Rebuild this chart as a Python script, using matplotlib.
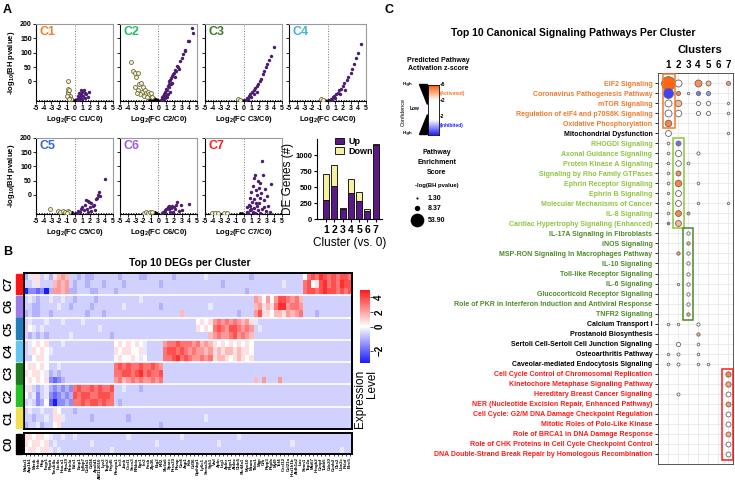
import numpy as np
import matplotlib
matplotlib.use("Agg")
import matplotlib.pyplot as plt
from matplotlib.colors import LinearSegmentedColormap, TwoSlopeNorm, Normalize
from matplotlib.patches import Rectangle, Polygon

plt.rcParams['font.family'] = ['Liberation Sans', 'DejaVu Sans']
plt.rcParams['font.weight'] = 'bold'
plt.rcParams['axes.labelweight'] = 'bold'
plt.rcParams['mathtext.fontset'] = 'custom'
plt.rcParams['mathtext.rm'] = 'Liberation Sans:bold'
plt.rcParams['mathtext.default'] = 'rm'
plt.rcParams['axes.linewidth'] = 0.8

# ---------------- data: volcano plots (log2 FC, -log10 BH p) ----------------
up_c1 = [(0.3, -60), (0.5, -50), (0.6, -40), (0.7, -55), (0.8, -30), (0.9, -45), (1.0, -35),
         (1.1, -50), (1.2, -28), (1.3, -40), (1.5, -45), (1.7, -55), (1.9, -35), (0.4, -65),
         (0.6, -62), (1.0, -60), (1.4, -58), (0.8, -48)]
down_c1 = [(-0.9, 0), (-0.9, -25), (-0.8, -35), (-0.7, -30), (-0.9, -45), (-0.6, -50),
           (-0.8, -55), (-0.5, -60), (-1.0, -50), (-0.7, -62)]
ns_c1 = [(-0.5, -64), (-0.3, -62), (-0.2, -66), (0.1, -65), (-0.4, -58), (0.0, -63)]

up_c2 = [(0.3, -65), (0.4, -60), (0.5, -55), (0.6, -50), (0.7, -45), (0.8, -40), (0.9, -35),
         (1.0, -25), (1.1, -30), (1.2, -15), (1.3, -10), (1.4, 0), (1.5, 5), (1.6, 12),
         (1.7, -5), (1.8, 20), (1.9, 25), (2.0, 30), (2.1, 15), (2.2, 40), (2.3, 35), (2.5, 50),
         (2.6, 45), (2.8, 70), (3.0, 80), (3.2, 95), (3.4, 105), (3.5, 110), (3.8, 140),
         (4.0, 140), (4.3, 185), (4.5, 170), (0.5, -63), (0.8, -58), (1.0, -52), (1.2, -45),
         (1.5, -35), (0.7, -62), (1.1, -55), (1.4, -20), (1.6, -8), (2.4, 55)]
down_c2 = [(-3.6, 66), (-3.3, 35), (-3.0, 28), (-2.7, 28), (-2.9, 15), (-2.5, -10), (-2.3, -5),
           (-2.0, -20), (-2.6, -30), (-2.2, -35), (-1.8, -30), (-1.6, -40), (-1.4, -35),
           (-1.2, -45), (-1.0, -40), (-2.4, -45), (-1.9, -50), (-1.5, -55), (-0.8, -55),
           (-2.8, -40), (-3.1, -20)]
ns_c2 = [(-1.0, -60), (-0.8, -62), (-0.6, -58), (-0.5, -64), (-0.3, -60), (-0.2, -65),
         (0.0, -63), (-0.7, -66), (-1.2, -64)]

up_c3 = [(0.3, -65), (0.5, -58), (0.7, -52), (0.9, -45), (1.1, -38), (1.3, -30), (1.5, -22),
         (1.7, -15), (1.9, -8), (2.1, 0), (2.3, 10), (2.5, 25), (2.7, 35), (2.9, 50), (3.1, 60),
         (3.3, 75), (3.6, 90), (3.9, 120), (0.6, -62), (1.0, -55), (1.4, -45), (1.8, -35)]
down_c3 = [(-0.7, -62), (-0.5, -65)]
ns_c3 = [(-0.2, -66), (0.1, -65)]

up_c4 = [(0.3, -65), (0.5, -60), (0.7, -55), (0.9, -50), (1.1, -45), (1.3, -40), (1.5, -30),
         (1.7, -25), (2.0, -15), (2.2, -5), (2.5, 5), (2.7, 15), (3.0, 30), (3.2, 45), (3.5, 60),
         (3.7, 80), (4.0, 100), (4.3, 130), (0.6, -63), (1.0, -58), (1.6, -45), (2.3, -30)]
down_c4 = [(-0.8, -60), (-0.6, -64)]
ns_c4 = [(-0.3, -65), (0.0, -66)]

up_c5 = [(3.9, 55), (3.2, 10), (3.1, 0), (2.9, -10), (2.8, -15), (3.3, -5), (1.5, -20),
         (1.7, -22), (1.9, -25), (2.1, -30), (1.3, -35), (1.0, -45), (0.8, -50), (0.5, -58),
         (0.3, -64), (1.2, -55), (1.6, -50), (2.0, -45), (2.4, -40), (2.6, -55), (0.7, -62),
         (1.8, -60), (2.2, -58), (2.5, -35)]
down_c5 = [(-3.2, -50), (-2.2, -58), (-1.9, -60), (-1.5, -58), (-1.2, -60), (-0.9, -56),
           (-0.7, -62), (-1.0, -64)]
ns_c5 = [(-0.5, -64), (-0.3, -62), (0.0, -65)]

up_c6 = [(0.4, -64), (0.6, -60), (0.8, -55), (1.0, -50), (1.2, -45), (1.4, -52), (1.6, -48),
         (1.8, -40), (2.0, -45), (2.2, -50), (2.4, -27), (2.9, -38), (4.0, -33), (1.5, -60),
         (2.6, -58), (3.1, -55), (0.9, -62), (1.9, -62), (1.3, -40), (2.3, -35)]
down_c6 = [(-1.9, -63), (-1.6, -62), (-1.3, -64), (-1.1, -62), (-0.9, -60)]
ns_c6 = [(-0.6, -64), (-0.4, -62), (-0.2, -65)]

up_c7 = [(2.4, 119), (1.5, 69), (2.5, 68), (1.4, 60), (1.9, 50), (3.6, 37), (2.2, 40), (1.2, 30),
         (2.0, 25), (1.6, 15), (2.8, 20), (1.0, 10), (2.3, 5), (1.8, 0), (3.0, -5), (0.9, -10),
         (1.4, -15), (2.6, -20), (1.1, -25), (2.0, -30), (0.7, -35), (1.7, -40), (3.2, -40),
         (0.5, -45), (1.3, -48), (2.4, -50), (0.8, -55), (1.9, -55), (0.4, -60), (1.2, -60),
         (2.9, -58), (3.4, -60), (0.6, -64), (1.5, -64), (2.2, -63), (1.0, -50), (1.6, -30),
         (2.1, -10), (0.9, -40), (2.7, -45)]
down_c7 = [(-4.1, -64), (-3.7, -63), (-3.3, -64), (-2.5, -63), (-2.2, -64)]
ns_c7 = [(-0.5, -64), (-0.2, -63)]

volcano_names = ["C1", "C2", "C3", "C4", "C5", "C6", "C7"]
volcano_colors = ["#f07f2e", "#22c065", "#3c7a2b", "#42b2e2", "#3a68d6", "#9a5ee0", "#ff2020"]
volcano_up = [up_c1, up_c2, up_c3, up_c4, up_c5, up_c6, up_c7]
volcano_down = [down_c1, down_c2, down_c3, down_c4, down_c5, down_c6, down_c7]
volcano_ns = [ns_c1, ns_c2, ns_c3, ns_c4, ns_c5, ns_c6, ns_c7]

# ---------------- data: DE gene counts ----------------
bar_clusters = [1, 2, 3, 4, 5, 6, 7]
de_up = [300, 520, 160, 410, 280, 130, 1150]
de_down = [400, 330, 8, 210, 140, 30, 20]

# ---------------- data: heatmap ----------------
genes = ["Malat1", "Atp1b1", "Mertk", "Hexb", "Pltp", "Ifngr1",
         "Ptprb", "Tmsb4x", "Ltc4s", "Hba-a1", "Rps29", "Retnla",
         "Edn1", "Emp1", "Igfbp7", "Col4a1", "Cd34", "Apold1", "AW112010", "Lyz2", "Tagln2", "Fxyd5",
         "Pmepa1", "Ier3", "Junb", "Cxcl1", "Socs3", "Nfkbia", "Egr1", "Ier2", "Fosb", "Zfp36", "Btg2", "Klf2",
         "Slc6a6", "Sparc", "Prss23", "Plvap", "Car4", "Aqp1", "Kdr", "Cd36", "Gpihbp1", "Ly6c1", "Sema3c", "Sgk1",
         "Vwf", "Apln", "Lrg1", "Aplnr", "Ptgs1", "Aldoc", "Cldn5", "Slc44a1", "Myo10", "Mcam", "Thbs1",
         "Mgp", "Cfh", "Plpp3", "Ptgds", "Myl9", "Tcf4", "Cxcl12", "Ccl21a", "Hist1h1b", "Aldh1a2", "Lox",
         "Stmn1", "Top2a", "Mki67", "Hmgb2", "Cenpf", "Tubb5", "Cdc20", "Ccnb2", "Cks2", "Ube2c", "Pclaf", "Birc5"]

# one letter per cell, A = -3 ... M = 4.5
level_chars = "ABCDEFGHIJKLM"
level_values = [-3, -2, -1.5, -1, -0.6, -0.3, 0, 0.7, 1.5, 2.2, 3, 3.8, 4.5]

heat_c7 = ["DFHHEFDHIJ IEEDEDDEEE EEEDEEEEDD EEEEEEDEEE EEEEFEEEEE EEEEEDEEEE EEEEEEEEGK LKMLKLKLLK",
           "EEFHEEEIJI JEDEEDEEED EEEEDEEEEE EEEDEEEEEE EEEEEEEEDE EEEEEEEEEE EEEFEEEEKL GHLMKLKMLL",
           "ACCBCADJJI JDDEEEDDEE EEDEEEEEEE EEEEEEEEEE EEEEEEEEEE EEEEDEEEEE EEEEEEEEKL LKLMLLKLKL"]
heat_c6 = ["EFEDEEFEEF EEDEEEEDEE EEEEEEEEFE EEEEEEEEEE EEEEEEEEEE EEEEEEJIGJ GJLLKJKIEE EEEEEEEEEE",
           "EEDDEEEEFE EDEEEEDEEE EEEEFEEEEE EEEDEEEEEE EEEEEFEEEE EEEEEEIJHI HKMMJKKJEE EEEEEEEEEE",
           "DEDDEEDEEE EEEEEDEEED EEEEEEEEEE EEEEEEEEIE EEEEEEEEEE EEDEEEJLHH GIIHJIJKEE EDEEEEEEEE"]
heat_c5 = ["EFEEEFEEEF EEEEFEEEEE EEEEEEEEEE EEEEEEEEEE EEGHGHJKJK JKJIJHFEEE EEEEEEEEEE EEEEEEEEEE",
           "EGFEFEEEEE EEEEEEEEFE EEEEEEEEEE EEEEEEEEEE EEHGHGKLKJ LLKJKJEFEE EEEEEEEEEE EEEEEEEEEE",
           "EDEDEDEEEE EFEEEEEEEE EDEEEEEEEE EEEEEEEEEE EEEEEIJKJJ KLJKJIEEEE EEEEEEEEEE EEEEEEEEEE"]
heat_c4 = ["EFGHGHEEEF EEEEEEEEEE EEGHGHGHGF EEEEJKKLKK KJKIJIHGHG HGHGHGEEEE EEEEEEEEEE EEEEEEEEEE",
           "EFHGHGFEEE EEEEEEEEEE EEHGHHGGHF EEEEKLLKLK JKJJIJHIHI IHIHHGEEEE EEEEEEEEEE EEEEEEEEEE",
           "EEGHHGEEEE EEEEEEEEEE EEGHGGHGFG EEEEKKLMKL KJJKJKHIIH GHIHGHEEEE EEEEEEEEEE EEEEEEEEEE"]
heat_c3 = ["GHHGHGEEFE EEEEEEEEEE EEKLKLKKLK KLKJEEEEEE EEEEEEEEEE EEEEEEEEEE EEEEEEEEEE EEEEEEEEEE",
           "HGHHGFDEDE EEEEEEEEEE EEKKLLKLMK LKKLEEEEEE EEEEEEEEEE EEEEEEEEEE EEEEEEEEEE EEEEEEEEEE",
           "GHGHGHCBCD EEEEEEEEEE EEJKIJKJKJ JKJKEEEEEE EEEEEEEEEE EEEEEEIEJE EEJEEEEEEE EEEEEEEEEE"]
heat_c2 = ["FHEDEFDCDC DCKLKKLKLK KLEEFEEEDE EEEEEEEEEE EEEEEEEEEE EEEEEEEEEE EEEEEEEEEE EEEEEEEEEE",
           "GEFCEFCBCD CDLKLLKKLL LKEEEEEEEE EEEEEEEEEE EEEEEEEEEE EEEEEEEEEE EEEEEEEEEE EEEEEEEEEE",
           "EFECDGBACC DCKKLKLLKL KKEDEEEEEE EEEEEEEEEE EEEEEEEEEE EEEEEEEEEE EEEEEEEEEE EEEEEEEEEE"]
heat_c1 = ["EFEEFEEHGE EEDEEEEEEE EEEEEEEEEE EEEEEEEEEE EEEEEEEEEE EEEEEEEEEE EEEEEEEEEE EEEEEEEEEE",
           "EEDEEFEHHF EEEEEEDEEE EEEEEDEEEE EEEEEEEEEE EEEEFEEEEE EEEEEEEEEE EEEEEEEEEE EEEEEEEEEE",
           "DEEFDEEGHE EEEEEEEEEE EEEEEEEEEE EEEDEEEEEE EEEEEEEEEE EEEEEEEEEE EEEEEEEEEE EEEEEEEEEE"]
heat_c0 = ["HHGHHGFEEF EEFEEEEEEE EEEEEFEEEE EEEEEEEEFE EEEEEEEEEE EEFEEEEEEE EEEEEEEEEE EEEEEEEEEE",
           "HGHHGHEFEE EEEEEEFEEE EEEEEEEEEE EEFEEEEEEE EEEEEEEFEE EEEEEEEEEE EEEEEFEEEE EEEEEEEEEE",
           "GHHGHHFEFE EEEEEEEEEE EFEEEEEEEE EEEEEEEEEE EEEEEEEEEE EEEEEEEEEE EEEEEEEEEE EEEEEEEFEE"]

heat_names = ["C7", "C6", "C5", "C4", "C3", "C2", "C1"]
heat_blocks = [heat_c7, heat_c6, heat_c5, heat_c4, heat_c3, heat_c2, heat_c1]
strip_colors = ["#ff1414", "#9b7de8", "#1f7fb8", "#5ec8f2", "#1e7a1e", "#22c322", "#f2e04a"]

# ---------------- data: canonical pathways ----------------
pathways = ["EIF2 Signaling", "Coronavirus Pathogenesis Pathway", "mTOR Signaling",
            "Regulation of eIF4 and p70S6K Signaling", "Oxidative Phosphorylation",
            "Mitochondrial Dysfunction", "RHOGDI Signaling", "Axonal Guidance Signaling",
            "Protein Kinase A Signaling", "Signaling by Rho Family GTPases",
            "Ephrin Receptor Signaling", "Ephrin B Signaling", "Molecular Mechanisms of Cancer",
            "IL-8 Signaling", "Cardiac Hypertrophy Signaling (Enhanced)",
            "IL-17A Signaling in Fibroblasts", "iNOS Signaling",
            "MSP-RON Signaling In Macrophages Pathway", "IL-10 Signaling",
            "Toll-like Receptor Signaling", "IL-6 Signaling", "Glucocorticoid Receptor Signaling",
            "Role of PKR in Interferon Induction and Antiviral Response", "TNFR2 Signaling",
            "Calcium Transport I", "Prostanoid Biosynthesis",
            "Sertoli Cell-Sertoli Cell Junction Signaling", "Osteoarthritis Pathway",
            "Caveolar-mediated Endocytosis Signaling",
            "Cell Cycle Control of Chromosomal Replication", "Kinetochore Metaphase Signaling Pathway",
            "Hereditary Breast Cancer Signaling", "NER (Nucleotide Excision Repair, Enhanced Pathway)",
            "Cell Cycle: G2/M DNA Damage Checkpoint Regulation", "Mitotic Roles of Polo-Like Kinase",
            "Role of BRCA1 in DNA Damage Response",
            "Role of CHK Proteins in Cell Cycle Checkpoint Control",
            "DNA Double-Strand Break Repair by Homologous Recombination"]
pathway_groups = ["o"] * 5 + ["k"] + ["lg"] * 9 + ["dg"] * 9 + ["k"] * 5 + ["r"] * 9
group_colors = {"o": "#f07a2c", "k": "black", "lg": "#8dc63f", "dg": "#4d8a2a", "r": "#ff1a1a"}

# (cluster, -log BH p, z-score) per pathway
pathway_dots = [
    [(1, 53.9, 4.8), (2, 14, 0), (4, 14, 4.0), (5, 7, 3.3), (7, 4.6, 3.8)],
    [(1, 29, -4.6), (2, 5, 4.2), (3, 1.6, 0), (4, 5, -3.8), (5, 5, -3.4)],
    [(1, 14, 0), (2, 12, 3.3), (4, 5, 0), (5, 5, 0), (7, 1.6, 0)],
    [(1, 14, 0), (2, 12, 0), (4, 5, 0), (5, 5, 0), (7, 2, 0)],
    [(1, 12, 4.2)],
    [(1, 10, 0), (7, 1.8, 0)],
    [(1, 2, 0), (2, 7, -4.0)],
    [(1, 2, 0), (2, 11, 0), (4, 3, 0)],
    [(1, 2, 0), (2, 9, 0), (3, 2.2, 0)],
    [(1, 2, 0), (2, 7, 4.0)],
    [(1, 2, 0), (2, 12, 4.2), (4, 2, 0)],
    [(1, 1.6, 0), (2, 10, 0)],
    [(1, 1.6, 0), (2, 10, 0), (4, 1.8, 0), (7, 1.6, 0)],
    [(1, 2, 0), (2, 10, 4.2), (3, 2.6, 3.6)],
    [(1, 2, -3.8), (2, 10, 3.3)],
    [(3, 3.2, 0)],
    [(3, 3.2, 3.3)],
    [(2, 3.2, 3.8), (3, 3.2, 0)],
    [(3, 3.2, 0)],
    [(3, 3.2, 0)],
    [(2, 1.6, 0), (3, 3.2, 0)],
    [(3, 3.2, 0)],
    [(3, 3.2, 0)],
    [(3, 3.2, 3.6)],
    [(1, 1.8, 0), (2, 1.8, 0), (4, 3, 0)],
    [(4, 3.2, 3.6)],
    [(2, 5, 0), (4, 2, 0)],
    [(1, 1.8, 0), (2, 2.6, 0), (4, 2, 0)],
    [(1, 2.2, 0), (2, 2.6, 0), (4, 2, 0), (5, 1.8, 0)],
    [(7, 8, 4.2)],
    [(7, 8, 3.6)],
    [(2, 2.6, 0), (7, 7, 0)],
    [(7, 7, 3.8)],
    [(7, 7, 0)],
    [(7, 7, 0)],
    [(7, 7, 3.5)],
    [(7, 7, 0)],
    [(7, 7, 0)],
]
legend_logp = [1.30, 8.37, 53.90]

# ---------------- figure ----------------
W, H = 735, 492
fig = plt.figure(figsize=(W / 100, H / 100), dpi=100)


def px_axes(x0, y0, x1, y1, **kw):
    return fig.add_axes([x0 / W, 1 - y1 / H, (x1 - x0) / W, (y1 - y0) / H], **kw)


# ---- A: volcano plots ----
vol_boxes = [(36, 24, 113, 101), (120, 24, 197, 101), (205, 24, 282, 101), (289, 24, 366, 101),
             (36, 138, 113, 214), (120, 138, 197, 214), (205, 138, 282, 214)]
for i, name in enumerate(volcano_names):
    ax = px_axes(*vol_boxes[i])
    ax.set_xlim(-5, 5)
    ax.set_ylim(-68, 200)
    ax.axvline(0, color="#777777", ls=":", lw=0.7)
    ax.axhline(-64, color="black", ls=":", lw=0.7)
    ns = np.array(volcano_ns[i])
    dn = np.array(volcano_down[i])
    up = np.array(volcano_up[i])
    ax.scatter(ns[:, 0], ns[:, 1], s=4, color="black", lw=0, zorder=3)
    ax.scatter(dn[:, 0], dn[:, 1], s=8, facecolor="#f3f0d4", edgecolor="#6e6a3a", lw=0.6, zorder=3)
    ax.scatter(up[:, 0], up[:, 1], s=6, color="#4b1c6f", lw=0, zorder=4)
    ax.text(0.04, 0.97, name, transform=ax.transAxes, color=volcano_colors[i],
            fontsize=9, va="top", ha="left")
    ax.set_xticks(range(-5, 6))
    ax.set_xticklabels([str(v) for v in range(-5, 6)], fontsize=5)
    ax.set_yticks([0, 50, 100, 150, 200])
    if i in (0, 4):
        ax.set_yticklabels(["0", "50", "100", "150", "200"], fontsize=5)
    else:
        ax.set_yticklabels([])
    ax.tick_params(length=2, width=0.6, pad=1)
    for side in ("top", "right"):
        ax.spines[side].set_color("#9a9a9a")
    ax.set_xlabel("Log$_2$(FC %s/C0)" % name, fontsize=5.5, labelpad=1.5)
    if i in (0, 4):
        ax.set_ylabel("-log$_{10}$(BH pvalue)", fontsize=5.5, labelpad=2)

# ---- A: DE gene bar chart ----
axb = px_axes(317, 139, 382, 219)
axb.bar(bar_clusters, de_up, width=0.72, color="#5a1a86", edgecolor="black", lw=0.6, label="Up")
axb.bar(bar_clusters, de_down, bottom=de_up, width=0.72, color="#f6f0a2", edgecolor="black",
        lw=0.6, label="Down")
axb.set_xlim(-0.08, 7.75)
axb.set_ylim(0, 1250)
axb.set_yticks([0, 250, 500, 750, 1000])
axb.set_xticks(bar_clusters)
axb.tick_params(axis="x", labelsize=7.5, length=2.5, pad=1.5)
axb.tick_params(axis="y", labelsize=5.5, length=2.5, pad=1)
axb.spines["top"].set_visible(False)
axb.spines["right"].set_visible(False)
axb.set_xlabel("Cluster (vs. 0)", fontsize=8.5, fontweight="normal", labelpad=2)
axb.set_ylabel("DE Genes (#)", fontsize=8.5, fontweight="normal", labelpad=1)
axb.legend(loc="upper left", bbox_to_anchor=(0.2, 1.08), frameon=False, fontsize=6.5,
           handlelength=1.1, handleheight=0.8, labelspacing=0.1, borderpad=0, handletextpad=0.4)

# ---- B: heatmap ----
def decode(rows):
    return [[level_values[level_chars.index(c)] for c in r.replace(" ", "")] for r in rows]


heat_top = np.array([row for block in heat_blocks for row in decode(block)])
heat_c0_vals = np.array(decode(heat_c0))

heat_cmap = LinearSegmentedColormap.from_list("bwr2", ["#1a1aff", "white", "#ff1a1a"])
heat_norm = TwoSlopeNorm(vmin=-3, vcenter=0, vmax=5)

axh = px_axes(24, 273, 352, 429)
im = axh.imshow(heat_top, cmap=heat_cmap, norm=heat_norm, aspect="auto", interpolation="nearest")
for k in range(1, 7):
    axh.axhline(k * 3 - 0.5, color="white", lw=1.2)
axh.set_xticks([])
axh.set_yticks([])
for sp in axh.spines.values():
    sp.set_linewidth(1.4)

axh0 = px_axes(24, 433, 352, 454)
axh0.imshow(heat_c0_vals, cmap=heat_cmap, norm=heat_norm, aspect="auto", interpolation="nearest")
axh0.set_yticks([])
axh0.set_xticks(range(len(genes)))
axh0.set_xticklabels(genes, rotation=90, fontsize=3.2)
axh0.tick_params(axis="x", length=1.5, width=0.5, pad=1)
for sp in axh0.spines.values():
    sp.set_linewidth(1.4)

cax = px_axes(360, 290, 370, 363)
cb = fig.colorbar(im, cax=cax, ticks=[-2, 0, 2, 4])
cb.outline.set_visible(False)
cax.tick_params(labelsize=7, length=2, width=0.5, pad=1)
plt.setp(cax.get_yticklabels(), rotation=90, va="center")

# ---- C: dot plot ----
z_cmap = LinearSegmentedColormap.from_list(
    "zscore", [(0, "#2424ff"), (0.3, "white"), (0.7, "white"), (1, "#ff5a00")])
z_norm = Normalize(-5, 5)

axd = px_axes(658, 73, 733, 464)
axd.set_xlim(0, 7.5)
axd.set_ylim(39, 0)
for r, dots in enumerate(pathway_dots):
    for cl, lp, z in dots:
        axd.scatter(cl, r + 1, s=1.8 * lp, color=z_cmap(z_norm(z)), edgecolor="#666666",
                    lw=0.6, zorder=3)
axd.set_xticks(range(1, 8))
axd.xaxis.tick_top()
axd.tick_params(axis="x", length=0, labelsize=7, pad=2)
axd.set_yticks(range(1, len(pathways) + 1))
axd.set_yticklabels(pathways, fontsize=5)
for lab, g in zip(axd.get_yticklabels(), pathway_groups):
    lab.set_color(group_colors[g])
axd.tick_params(axis="y", length=2, width=0.6, pad=2)
axd.grid(color="#e4e4e4", lw=0.5)
axd.set_axisbelow(True)
for sp in axd.spines.values():
    sp.set_color("#555555")
    sp.set_linewidth(0.7)

boxes = [(0.45, 0.05, 1.65, 5.5, "#f07a2c"), (1.45, 6.45, 2.6, 15.5, "#8dc63f"),
         (2.45, 15.5, 3.5, 24.6, "#4d8a2a"), (6.4, 29.5, 7.45, 38.6, "#ff1a1a")]
for x0, y0, x1, y1, c in boxes:
    axd.add_patch(Rectangle((x0, y0), x1 - x0, y1 - y0, fill=False, edgecolor=c, lw=1.1,
                            clip_on=False, zorder=4))

# gradient bar of the z-score legend
axg = px_axes(428, 85, 439, 135)
axg.imshow(np.linspace(5, -5, 100).reshape(-1, 1), cmap=z_cmap, norm=z_norm, aspect="auto")
axg.set_xticks([])
axg.set_yticks([])
for sp in axg.spines.values():
    sp.set_linewidth(0.6)

# ---- overlay for panel letters and free text ----
ov = fig.add_axes([0, 0, 1, 1], zorder=10)
ov.set_xlim(0, W)
ov.set_ylim(H, 0)
ov.axis("off")
ov.patch.set_alpha(0)

ov.text(3, 10, "A", fontsize=9, va="center")
ov.text(3, 252, "B", fontsize=9, va="center")
ov.text(385, 10, "C", fontsize=9, va="center")

ov.text(190, 263, "Top 10 DEGs per Cluster", fontsize=7.5, ha="center", va="center")
block_h = 156 / 7
for k, (name, c) in enumerate(zip(heat_names, strip_colors)):
    y0 = 273 + k * block_h
    ov.add_patch(Rectangle((16, y0 + 0.8), 6.5, block_h - 1.6, color=c))
    ov.text(9, y0 + block_h / 2, name, rotation=90, fontsize=8, ha="center", va="center")
ov.add_patch(Rectangle((16, 433.5), 6.5, 20, color="black"))
ov.text(9, 444, "C0", rotation=90, fontsize=8, ha="center", va="center")
ov.text(366, 370, "Expression\nLevel", rotation=90, fontsize=8.5, fontweight="normal",
        ha="center", va="top", multialignment="right", linespacing=0.95)

ov.text(573, 33, "Top 10 Canonical Signaling Pathways Per Cluster", fontsize=7.5,
        ha="center", va="center")
ov.text(700, 50, "Clusters", fontsize=8, ha="center", va="center")

ov.text(438, 65, "Predicted Pathway\nActivation z-score", fontsize=5, ha="center",
        va="center", linespacing=1.2)
ov.add_patch(Polygon([(419, 84), (427, 84), (427, 104)], color="black"))
ov.add_patch(Polygon([(427, 114), (427, 134), (419, 134)], color="black"))
ov.text(408, 84, "High", fontsize=3.2, ha="center", va="center")
ov.text(415, 108, "Low", fontsize=3.5, ha="center", va="center")
ov.text(408, 133, "High", fontsize=3.2, ha="center", va="center")
ov.text(403, 112, "Confidence", rotation=90, fontsize=4, fontweight="normal",
        ha="center", va="center")
ov.text(440, 85, "+5", fontsize=3.5, va="center")
ov.text(440, 93, "(Activated)", fontsize=3.5, va="center", color="#f07a2c")
ov.text(440, 101, "+2", fontsize=3.5, va="center")
ov.text(440, 116, "-2", fontsize=3.5, va="center")
ov.text(440, 125, "(Inhibited)", fontsize=3.5, va="center", color="#2424ff")

ov.text(437, 163, "Pathway\nEnrichment\nScore", fontsize=5, ha="center", va="center",
        linespacing=1.6)
ov.text(437, 185, "-log(BH pvalue)", fontsize=4.2, ha="center", va="center")
legend_y = [198, 208, 220]
for lp, y in zip(legend_logp, legend_y):
    ov.scatter(417, y, s=1.8 * lp, color="black", lw=0)
    ov.text(428, y, "%.2f" % lp, fontsize=5, va="center")

fig.savefig("out.png", dpi=100)
